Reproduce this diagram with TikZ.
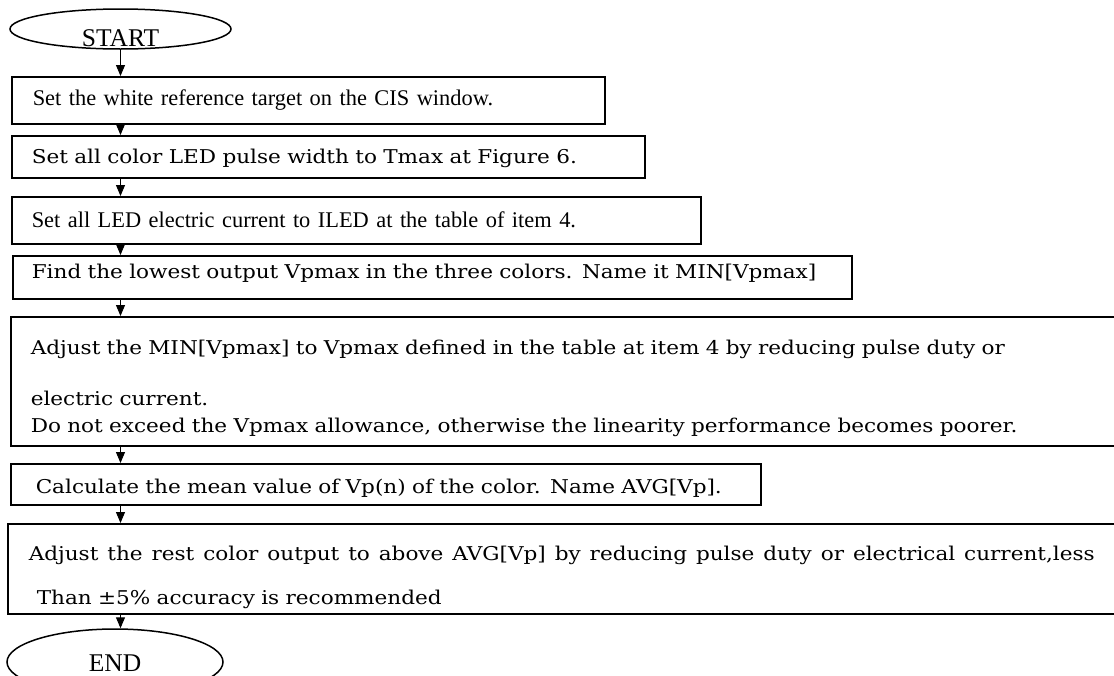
\documentclass[tikz,border=0pt]{standalone}
\usepackage{fontspec}
\setmainfont{DejaVu Serif}[FakeStretch=1.135]
\newfontfamily\timesfont{Liberation Serif}
\usetikzlibrary{shapes.geometric,arrows.meta}
\begin{document}
\begin{tikzpicture}[x=1pt,y=-1pt,
  box/.style={draw, line width=1.5pt, rectangle, anchor=north west, inner ysep=0pt,
    align=left, font=\fontsize{19}{27}\selectfont},
  tbox/.style={box, font=\timesfont\fontsize{22.4}{27}\selectfont},
  term/.style={draw, ellipse, line width=1.5pt, inner sep=0pt, font=\timesfont\fontsize{25.5}{26}\selectfont},
  arr/.style={line width=1pt, -{Triangle[length=11pt,width=9pt]}}]
\useasboundingbox (0,0) rectangle (1114,675);
\clip (0,0) rectangle (1114,675);

\node[term, minimum width=221pt, minimum height=40pt] (start) at (120.5,29)
  {\smash{\raisebox{-17pt}{START}}};

\node[tbox, inner xsep=21pt, text width=551pt, minimum height=47pt] (b1) at (11,76)
  {Set the white reference target on the CIS window.};
\node[box, inner xsep=20pt, text width=593pt, minimum height=42pt] (b2) at (11,135)
  {\rule{0pt}{18.5pt}Set all color LED pulse width to Tmax at Figure 6.};
\node[tbox, inner xsep=20pt, text width=649pt, minimum height=47pt] (b3) at (11,196)
  {Set all LED electric current to ILED at the table of item 4.};
\node[box, inner xsep=19pt, text width=801pt, minimum height=43pt] (b4) at (12,255)
  {\rule[-12pt]{0pt}{12pt}Find the lowest output Vpmax in the three colors. Name it MIN[Vpmax]};
\node[box, inner xsep=20pt, text width=1080pt, minimum height=129pt] (b5) at (10,316)
  {\rule{0pt}{29pt}Adjust the MIN[Vpmax] to Vpmax defined in the table at item 4 by reducing pulse duty or\\[24pt]
   electric current.\\
   Do not exceed the Vpmax allowance, otherwise the linearity performance becomes poorer.};
\node[box, inner xsep=25pt, text width=700pt, minimum height=41pt] (b6) at (10,463)
  {\rule{0pt}{22.5pt}Calculate the mean value of Vp(n) of the color. Name AVG[Vp].};
\node[box, inner xsep=21pt, text width=1078pt, minimum height=90pt] (b7) at (7,523)
  {\rule{0pt}{32pt}\hbox to 1066pt{\spaceskip=0.3em plus 1fil Adjust the rest color output to above AVG[Vp] by reducing pulse duty or electrical current,less}\\[17pt]
   \hspace*{8pt}Than ±5\% accuracy is recommended};

\node[term, minimum width=216pt, minimum height=66pt] (end) at (115,662)
  {\smash{\raisebox{-9pt}{END}}};

\draw[arr] (start.south) -- (start.south |- b1.north);
\draw[arr] (b1.south -| start.south) -- (b2.north -| start.south);
\draw[arr] (b2.south -| start.south) -- (b3.north -| start.south);
\draw[arr] (b3.south -| start.south) -- (b4.north -| start.south);
\draw[arr] (b4.south -| start.south) -- (b5.north -| start.south);
\draw[arr] (b5.south -| start.south) -- (b6.north -| start.south);
\draw[arr] (b6.south -| start.south) -- (b7.north -| start.south);
\draw[arr] (b7.south -| start.south) -- (end.north -| start.south);
\end{tikzpicture}
\end{document}
